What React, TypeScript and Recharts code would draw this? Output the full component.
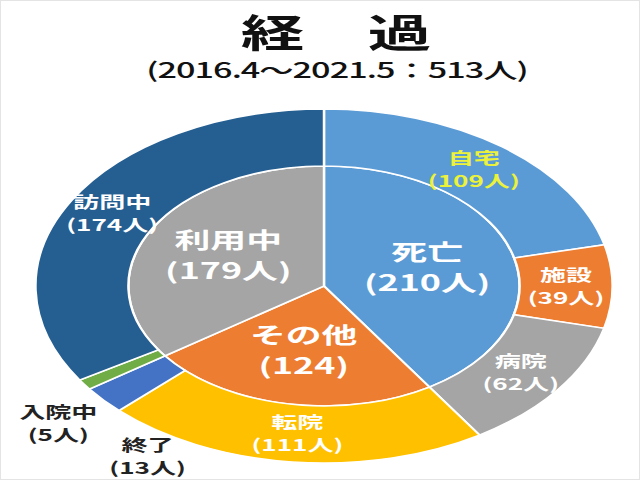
import { Cell, Pie, PieChart } from "recharts";

const innerNames = ["死亡", "その他", "利用中"];
const innerValues = [210, 124, 179];
const innerUnits = ["人", "", "人"];

const outerNames = ["自宅", "施設", "病院", "転院", "終了", "入院中", "訪問中"];
const outerValues = [109, 39, 62, 111, 13, 5, 174];

const title = "経　過";
const subtitle = "(2016.4〜2021.5：513人)";

const innerColors = ["#5b9bd5", "#ed7d31", "#a5a5a5"];
const outerColors = ["#5b9bd5", "#ed7d31", "#a5a5a5", "#ffc000", "#4472c4", "#70ad47", "#255e91"];
const outerLabelColors = ["#ecf23a", "#fff", "#fff", "#fff", "#222", "#222", "#fff"];

// the original picture is stretched sideways, so draw narrow and scale x
const STRETCH = 1.63;
const W = 640 / STRETCH;
const H = 480;
const CX = 323 / STRETCH;
const CY = 285;
const R_IN = 120;
const R_OUT = 177;
const FONT = '"Noto Sans CJK JP", "Noto Sans", sans-serif';
const RAD = Math.PI / 180;

// thin slices get their label outside the ring
const outsideOffset: Record<string, [number, number]> = {
  入院中: [-16, 39],
  終了: [27, 57],
};

const innerData = innerNames.map((name, i) => ({ name, value: innerValues[i] }));
const outerData = outerNames.map((name, i) => ({ name, value: outerValues[i] }));

function twoLine(x: number, y: number, l1: string, l2: string, size: number, gap: number, fill: string) {
  return (
    <text textAnchor="middle" fill={fill} fontSize={size} fontWeight="bold" fontFamily={FONT}>
      <tspan x={x} y={y - gap / 2 + size * 0.36}>{l1}</tspan>
      <tspan x={x} y={y + gap / 2 + size * 0.36}>{l2}</tspan>
    </text>
  );
}

const renderInner = (p: any) => {
  const r = 66;
  const x = Number(p.cx) + r * Math.cos(-p.midAngle * RAD);
  const y = Number(p.cy) + r * Math.sin(-p.midAngle * RAD);
  const i = p.index;
  return twoLine(x, y, innerNames[i], `(${innerValues[i]}${innerUnits[i]})`, 22, 31, "#fff");
};

const renderOuter = (p: any) => {
  const i = p.index;
  const name = outerNames[i];
  const off = outsideOffset[name];
  const r = off ? R_OUT : (R_IN + R_OUT) / 2;
  let x = Number(p.cx) + r * Math.cos(-p.midAngle * RAD);
  let y = Number(p.cy) + r * Math.sin(-p.midAngle * RAD);
  if (off) {
    x += off[0];
    y += off[1];
  }
  return twoLine(x, y, name, `(${outerValues[i]}人)`, 16, 23, outerLabelColors[i]);
};

export default function App() {
  return (
    <div
      style={{
        position: "absolute",
        left: 0,
        top: 0,
        width: 640,
        height: 480,
        overflow: "hidden",
        background: "#fff",
        border: "1px solid #e4e4e4",
        boxSizing: "border-box",
      }}
    >
      <div style={{ position: "absolute", left: 0, top: 0, width: W, height: H, transform: `scaleX(${STRETCH})`, transformOrigin: "0 0" }}>
        <svg width={W} height={H} style={{ position: "absolute", left: 0, top: 0 }}>
          <text x={335 / STRETCH} y={46} textAnchor="middle" fontSize={39} fontWeight="bold" fontFamily={FONT} fill="#111">
            {title}
          </text>
          <text
            x={336 / STRETCH}
            y={77}
            textAnchor="middle"
            fontSize={21}
            fontWeight={500}
            letterSpacing={-0.6}
            fontFamily={FONT}
            fill="#111"
          >
            {subtitle}
          </text>
        </svg>
        <div style={{ position: "absolute", left: 0, top: 0 }}>
          <PieChart width={W} height={H} margin={{ top: 0, right: 0, bottom: 0, left: 0 }}>
            <Pie
              data={innerData}
              dataKey="value"
              nameKey="name"
              cx={CX}
              cy={CY}
              innerRadius={0}
              outerRadius={R_IN}
              startAngle={90}
              endAngle={-270}
              stroke="#fff"
              strokeWidth={1.5}
              label={renderInner}
              labelLine={false}
              isAnimationActive={false}
            >
              {innerData.map((d, i) => (
                <Cell key={d.name} fill={innerColors[i]} />
              ))}
            </Pie>
            <Pie
              data={outerData}
              dataKey="value"
              nameKey="name"
              cx={CX}
              cy={CY}
              innerRadius={R_IN}
              outerRadius={R_OUT}
              startAngle={90}
              endAngle={-270}
              stroke="#fff"
              strokeWidth={1.5}
              label={renderOuter}
              labelLine={false}
              isAnimationActive={false}
            >
              {outerData.map((d, i) => (
                <Cell key={d.name} fill={outerColors[i]} />
              ))}
            </Pie>
          </PieChart>
        </div>
      </div>
    </div>
  );
}
